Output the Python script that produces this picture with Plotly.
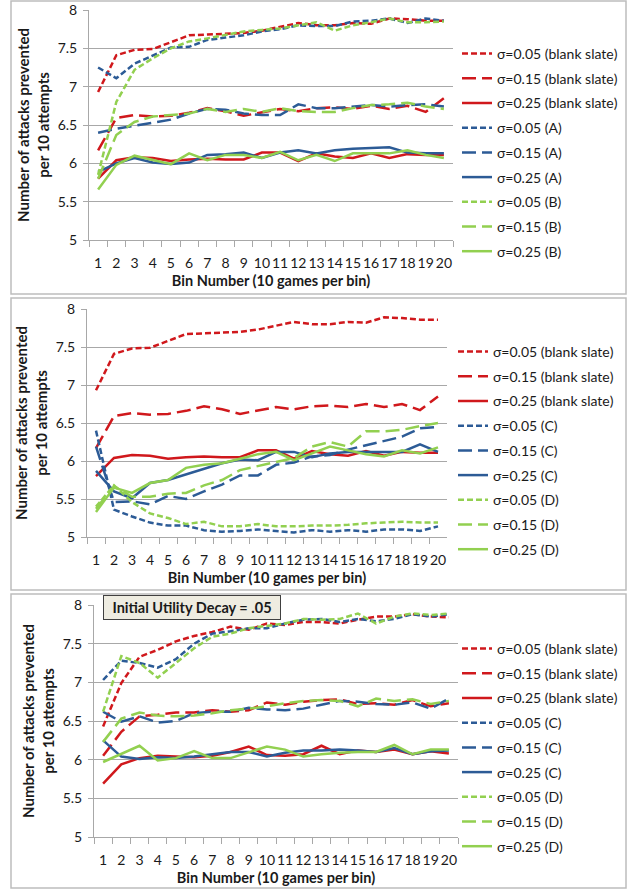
import plotly.graph_objects as go

W, H = 627, 890

bins = [str(i) for i in range(1, 21)]

# ---- Blank slate (shared by panels 1 and 2) ----
blank_005 = [6.93, 7.41, 7.48, 7.49, 7.58, 7.67, 7.68, 7.69, 7.70, 7.73, 7.78, 7.83, 7.80, 7.80, 7.83, 7.82, 7.89, 7.88, 7.86, 7.86]
blank_015 = [6.17, 6.59, 6.63, 6.61, 6.62, 6.66, 6.72, 6.68, 6.62, 6.67, 6.71, 6.68, 6.72, 6.73, 6.71, 6.75, 6.71, 6.75, 6.67, 6.85]
blank_025 = [5.80, 6.04, 6.08, 6.07, 6.03, 6.05, 6.06, 6.05, 6.05, 6.14, 6.14, 6.03, 6.13, 6.09, 6.07, 6.13, 6.07, 6.12, 6.11, 6.11]

# ---- Panel 1: A and B ----
A_005 = [7.25, 7.11, 7.30, 7.41, 7.51, 7.52, 7.61, 7.64, 7.67, 7.72, 7.75, 7.80, 7.79, 7.79, 7.85, 7.86, 7.89, 7.83, 7.89, 7.86]
A_015 = [6.40, 6.45, 6.49, 6.53, 6.57, 6.65, 6.71, 6.70, 6.65, 6.63, 6.63, 6.77, 6.72, 6.72, 6.74, 6.76, 6.74, 6.76, 6.77, 6.74]
A_025 = [5.89, 6.00, 6.07, 6.01, 5.99, 6.01, 6.11, 6.12, 6.14, 6.07, 6.14, 6.17, 6.13, 6.17, 6.19, 6.20, 6.21, 6.14, 6.13, 6.13]
B_005 = [5.85, 6.80, 7.22, 7.37, 7.50, 7.59, 7.63, 7.67, 7.72, 7.74, 7.76, 7.80, 7.84, 7.73, 7.80, 7.84, 7.89, 7.84, 7.84, 7.85]
B_015 = [5.80, 6.37, 6.54, 6.61, 6.63, 6.65, 6.71, 6.67, 6.71, 6.67, 6.72, 6.68, 6.67, 6.67, 6.72, 6.76, 6.77, 6.79, 6.74, 6.71]
B_025 = [5.66, 5.98, 6.10, 6.04, 5.99, 6.13, 6.04, 6.11, 6.11, 6.07, 6.15, 6.04, 6.11, 6.03, 6.13, 6.13, 6.13, 6.17, 6.11, 6.07]

# ---- Panel 2: C and D ----
C_005 = [6.40, 5.36, 5.27, 5.19, 5.15, 5.15, 5.09, 5.07, 5.08, 5.10, 5.08, 5.06, 5.09, 5.07, 5.09, 5.07, 5.10, 5.10, 5.08, 5.14]
C_015 = [6.19, 5.46, 5.47, 5.43, 5.54, 5.50, 5.60, 5.69, 5.81, 5.81, 5.95, 5.98, 6.06, 6.08, 6.15, 6.21, 6.27, 6.32, 6.43, 6.45]
C_025 = [5.87, 5.60, 5.51, 5.71, 5.75, 5.82, 5.90, 5.97, 6.02, 6.01, 6.12, 6.12, 6.05, 6.10, 6.12, 6.12, 6.12, 6.12, 6.22, 6.12]
D_005 = [5.40, 5.68, 5.46, 5.31, 5.25, 5.17, 5.20, 5.14, 5.14, 5.17, 5.14, 5.14, 5.15, 5.15, 5.16, 5.18, 5.19, 5.20, 5.19, 5.19]
D_015 = [5.37, 5.67, 5.53, 5.53, 5.57, 5.58, 5.68, 5.75, 5.88, 5.93, 5.98, 6.04, 6.19, 6.25, 6.19, 6.39, 6.39, 6.41, 6.46, 6.50]
D_025 = [5.33, 5.65, 5.58, 5.71, 5.75, 5.91, 5.95, 5.97, 6.03, 6.09, 6.12, 6.01, 6.10, 6.19, 6.14, 6.09, 6.06, 6.14, 6.10, 6.18]

# ---- Panel 3: Initial utility decay = .05 ----
dblank_005 = [6.43, 6.99, 7.33, 7.42, 7.53, 7.60, 7.65, 7.72, 7.68, 7.76, 7.74, 7.78, 7.78, 7.76, 7.81, 7.85, 7.85, 7.88, 7.85, 7.84]
dblank_015 = [6.05, 6.36, 6.56, 6.58, 6.61, 6.61, 6.64, 6.62, 6.64, 6.74, 6.71, 6.75, 6.77, 6.78, 6.72, 6.73, 6.71, 6.77, 6.69, 6.73]
dblank_025 = [5.69, 5.94, 6.02, 6.05, 6.04, 6.03, 6.05, 6.10, 6.17, 6.06, 6.05, 6.07, 6.18, 6.07, 6.12, 6.10, 6.13, 6.07, 6.11, 6.08]
dC_005 = [7.03, 7.28, 7.25, 7.19, 7.30, 7.50, 7.63, 7.66, 7.70, 7.70, 7.76, 7.81, 7.82, 7.78, 7.82, 7.79, 7.82, 7.88, 7.85, 7.88]
dC_015 = [6.62, 6.49, 6.56, 6.48, 6.50, 6.60, 6.62, 6.62, 6.67, 6.65, 6.64, 6.66, 6.71, 6.76, 6.75, 6.72, 6.71, 6.74, 6.66, 6.79]
dC_025 = [6.25, 6.04, 6.01, 6.03, 6.02, 6.04, 6.07, 6.10, 6.10, 6.04, 6.09, 6.12, 6.12, 6.13, 6.12, 6.10, 6.15, 6.07, 6.11, 6.12]
dD_005 = [6.62, 7.34, 7.25, 7.06, 7.25, 7.44, 7.59, 7.63, 7.70, 7.73, 7.76, 7.82, 7.81, 7.82, 7.89, 7.76, 7.85, 7.89, 7.87, 7.89]
dD_015 = [6.23, 6.53, 6.61, 6.57, 6.56, 6.57, 6.60, 6.64, 6.66, 6.69, 6.73, 6.76, 6.77, 6.76, 6.69, 6.79, 6.76, 6.78, 6.72, 6.76]
dD_025 = [5.97, 6.08, 6.18, 5.99, 6.02, 6.11, 6.02, 6.02, 6.10, 6.17, 6.13, 6.04, 6.07, 6.09, 6.10, 6.10, 6.19, 6.07, 6.13, 6.13]

RED, BLUE, GREEN = "#D0181C", "#2C5B96", "#92D050"
DASHES = {"0.05": "6px,3px", "0.15": "14px,6px", "0.25": "solid"}
FONT = "Lato, 'Open Sans', sans-serif"
TXT = "#1a1a1a"
GRID = "#A8A8A8"

panels = [
    [("blank slate", RED, [blank_005, blank_015, blank_025]),
     ("A", BLUE, [A_005, A_015, A_025]),
     ("B", GREEN, [B_005, B_015, B_025])],
    [("blank slate", RED, [blank_005, blank_015, blank_025]),
     ("C", BLUE, [C_005, C_015, C_025]),
     ("D", GREEN, [D_005, D_015, D_025])],
    [("blank slate", RED, [dblank_005, dblank_015, dblank_025]),
     ("C", BLUE, [dC_005, dC_015, dC_025]),
     ("D", GREEN, [dD_005, dD_015, dD_025])],
]

# pixel geometry of each plot area: (x0, x1, ytop, ybottom)
areas = [(89, 453, 10, 240), (87, 447, 309, 537), (94, 458, 605, 837)]
legend_pos = [(457, 38), (453, 336), (457, 633)]
borders = [(11, 1, 626, 294), (11, 298, 626, 590), (11, 594, 626, 888)]

fig = go.Figure()
layout = {}
for p, groups in enumerate(panels):
    sfx = "" if p == 0 else str(p + 1)
    leg = "legend" if p == 0 else f"legend{p + 1}"
    for name, color, series in groups:
        for sig, vals in zip(["0.05", "0.15", "0.25"], series):
            fig.add_trace(go.Scatter(
                x=bins, y=vals, mode="lines",
                name=f"σ={sig} ({name})",
                line=dict(color=color, width=2.5, dash=DASHES[sig]),
                xaxis="x" + sfx, yaxis="y" + sfx,
                legend=leg, legendgroup=f"p{p}{name}{sig}",
            ))
    x0, x1, yt, yb = areas[p]
    layout["xaxis" + sfx] = dict(
        domain=[x0 / W, x1 / W], anchor="y" + sfx, type="category", automargin=False,
        range=[-0.5, 19.5], tickson="boundaries", ticks="outside", ticklen=6,
        tickcolor=GRID, showline=True, linecolor=GRID, linewidth=1, showgrid=False,
        tickangle=0, ticklabelstandoff=10,
        tickfont=dict(family=FONT, size=14, color=TXT),
        title=dict(text="<b>Bin Number (10 games per bin)</b>", standoff=6,
                   font=dict(family=FONT, size=14.5, color=TXT)),
    )
    layout["yaxis" + sfx] = dict(
        domain=[1 - yb / H, 1 - yt / H], anchor="x" + sfx, range=[5, 8], dtick=0.5,
        automargin=False, ticklabelstandoff=3,
        showgrid=True, gridcolor=GRID, gridwidth=1, zeroline=False,
        showline=True, linecolor=GRID, linewidth=1, ticks="outside", ticklen=5,
        tickcolor=GRID, tickfont=dict(family=FONT, size=14, color=TXT),
        title=dict(text="<b>Number of attacks prevented<br>per 10 attempts</b>", standoff=4,
                   font=dict(family=FONT, size=15, color=TXT)),
    )
    lx, ly = legend_pos[p]
    layout[leg] = dict(
        x=lx / W, y=1 - ly / H, xanchor="left", yanchor="top",
        font=dict(family=FONT, size=14, color=TXT), bgcolor="rgba(0,0,0,0)",
        tracegroupgap=3.5, itemwidth=30, traceorder="grouped",
    )

shapes = []
for (bx0, by0, bx1, by1) in borders:
    shapes.append(dict(type="rect", xref="paper", yref="paper",
                       x0=bx0 / W, x1=bx1 / W, y0=1 - by1 / H, y1=1 - by0 / H,
                       line=dict(color="#BDBDBD", width=1.5), fillcolor="rgba(0,0,0,0)",
                       layer="below"))

fig.update_layout(
    **layout,
    width=W, height=H, margin=dict(l=0, r=0, t=0, b=0, autoexpand=False),
    paper_bgcolor="white", plot_bgcolor="white",
    font=dict(family=FONT, color=TXT),
    shapes=shapes,
    showlegend=True,
    annotations=[dict(
        text="<b>Initial Utility Decay = .05</b>", xref="paper", yref="paper",
        x=191.5 / W, y=1 - 607.5 / H, xanchor="center", yanchor="middle",
        showarrow=False, bgcolor="#EEECE1", bordercolor="#404040", borderwidth=1,
        width=174, height=21, font=dict(family=FONT, size=14.5, color=TXT),
    )],
)

fig.write_html(
    "out.html",
    config={"displayModeBar": False},
    post_script="document.body.style.margin='0';document.body.style.padding='0';"
                "document.documentElement.style.overflow='hidden';",
)
